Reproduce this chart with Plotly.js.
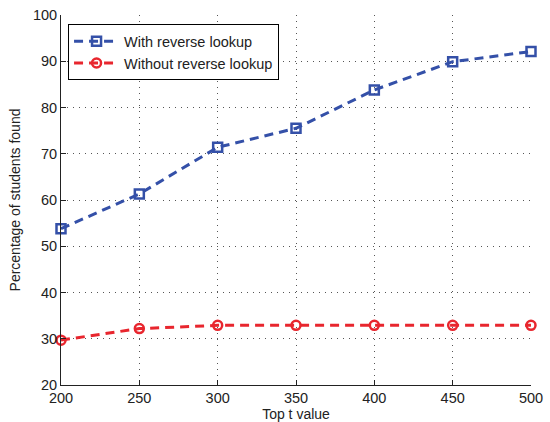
<!DOCTYPE html>
<html>
<head>
<meta charset="utf-8">
<script src="https://cdn.plot.ly/plotly-3.0.1.min.js"></script>
<style>html,body{margin:0;padding:0;background:#fff;}#chart{width:550px;height:422px;}</style>
</head>
<body>
<div id="chart"></div>
<script>
const topT = [200, 250, 300, 350, 400, 450, 500];
const withReverse = [53.8, 61.3, 71.4, 75.5, 83.8, 89.9, 92.1];
const withoutReverse = [29.7, 32.2, 32.9, 32.9, 32.9, 32.9, 32.9];
const xTicks = [200, 250, 300, 350, 400, 450, 500];
const yTicks = [20, 30, 40, 50, 60, 70, 80, 90, 100];

const traces = [
  {
    x: topT, y: withReverse, name: 'With reverse lookup', type: 'scatter', mode: 'lines+markers',
    line: {color: '#3450a8', width: 3, dash: '9px,6px'},
    marker: {symbol: 'square-open', size: 9, color: '#3450a8', line: {width: 2.5, color: '#3450a8'}},
    cliponaxis: false
  },
  {
    x: topT, y: withoutReverse, name: 'Without reverse lookup', type: 'scatter', mode: 'lines+markers',
    line: {color: '#e8262e', width: 3, dash: '9px,6px'},
    marker: {symbol: 'circle-open', size: 9, color: '#e8262e', line: {width: 2.5, color: '#e8262e'}},
    cliponaxis: false
  }
];

const font = {family: 'Liberation Sans, Arial, sans-serif', color: '#222', size: 14.5};

const layout = {
  width: 550, height: 422,
  margin: {l: 61, r: 19, t: 15, b: 37},
  paper_bgcolor: '#fff', plot_bgcolor: '#fff',
  font: font,
  showlegend: true,
  legend: {
    x: 0.015, y: 0.975, xanchor: 'left', yanchor: 'top',
    bgcolor: '#fff', bordercolor: '#000', borderwidth: 1,
    font: {family: font.family, size: 14.5, color: '#222'},
    tracegroupgap: 0, itemwidth: 45
  },
  xaxis: {
    range: [200, 500], tickvals: xTicks, ticktext: xTicks.map(String),
    ticks: 'inside', ticklen: 5, tickcolor: '#222',
    showline: true, linecolor: '#222', linewidth: 1, mirror: false,
    showgrid: true, gridcolor: '#555', griddash: '1px,5px', gridwidth: 1,
    zeroline: false, tickfont: {size: 14.5},
    title: {text: 'Top t value', font: {size: 14}, standoff: 0}
  },
  yaxis: {
    range: [20, 100], tickvals: yTicks, ticktext: yTicks.map(String),
    ticks: 'inside', ticklen: 5, tickcolor: '#222',
    showline: true, linecolor: '#222', linewidth: 1, mirror: false,
    showgrid: true, gridcolor: '#555', griddash: '1px,5px', gridwidth: 1,
    zeroline: false, tickfont: {size: 14.5},
    title: {text: 'Percentage of students found', font: {size: 14}, standoff: 8}
  }
};

Plotly.newPlot('chart', traces, layout, {displayModeBar: false, staticPlot: true});
</script>
</body>
</html>
